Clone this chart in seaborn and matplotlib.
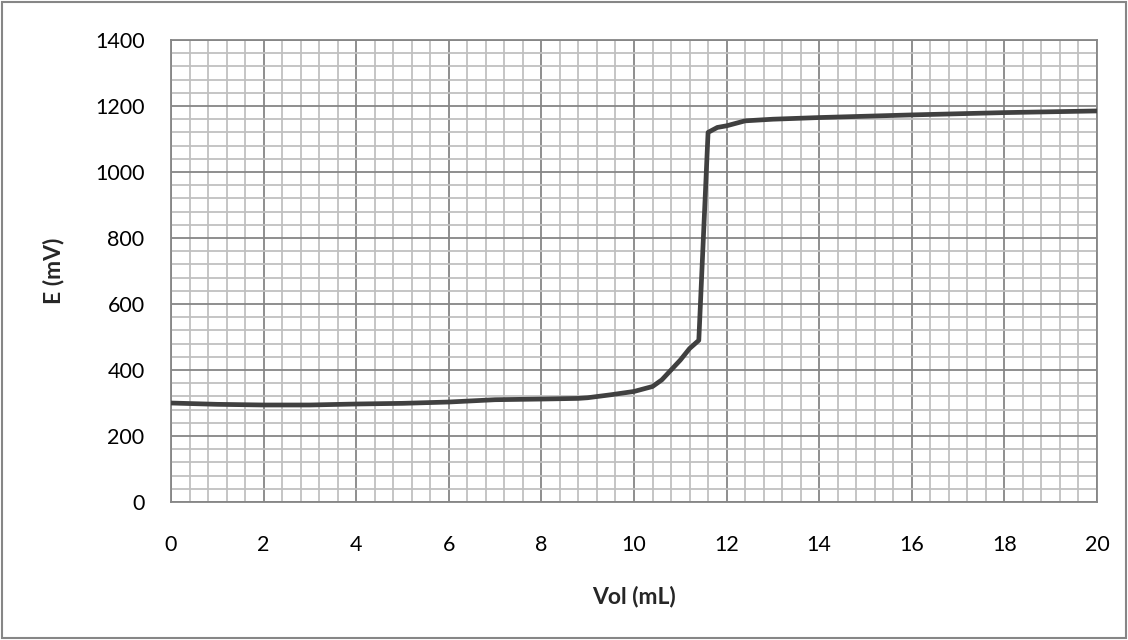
import matplotlib
matplotlib.use("Agg")
import matplotlib.pyplot as plt
from matplotlib.ticker import MultipleLocator
from matplotlib.patches import Rectangle
import seaborn as sns
import pandas as pd

vol = [0, 1, 2, 3, 4, 5, 6, 7, 8, 8.8, 9, 9.5, 10, 10.4, 10.6, 10.8, 11.0, 11.2, 11.4,
       11.6, 11.8, 12.0, 12.4, 13, 14, 16, 18, 20]
emf = [300, 296, 294, 294, 297, 299, 303, 310, 312, 314, 316, 325, 335, 350, 370, 400, 430, 465, 490,
       1120, 1135, 1140, 1155, 1160, 1165, 1173, 1180, 1185]

df = pd.DataFrame({"Vol (mL)": vol, "E (mV)": emf})

sns.set_style("white")
plt.rcParams['font.family'] = ['Lato', 'DejaVu Sans']

fig = plt.figure(figsize=(11.28, 6.4), dpi=100)
ax = fig.add_axes([0.1516, 0.2156, 0.9725 - 0.1516, 0.9375 - 0.2156])

ax.xaxis.set_major_locator(MultipleLocator(2))
ax.xaxis.set_minor_locator(MultipleLocator(0.4))
ax.yaxis.set_major_locator(MultipleLocator(200))
ax.yaxis.set_minor_locator(MultipleLocator(40))
ax.grid(which='minor', color='#c0c0c0', linewidth=1.3, zorder=0)
ax.grid(which='major', color='#868686', linewidth=1.3, zorder=0)
ax.set_axisbelow(True)

sns.lineplot(data=df, x="Vol (mL)", y="E (mV)", ax=ax, color='#404040', linewidth=3.4,
             solid_joinstyle='round', solid_capstyle='butt', zorder=3)

ax.set_xlim(0, 20)
ax.set_ylim(0, 1400)
for s in ax.spines.values():
    s.set_color('#868686')
    s.set_linewidth(1.3)
ax.tick_params(axis='both', which='both', length=0, labelsize=15.5, colors='black')
ax.tick_params(axis='x', pad=24)
ax.tick_params(axis='y', pad=19)
ax.set_xlabel("Vol (mL)", fontsize=16.5, fontweight='bold', labelpad=22)
ax.set_ylabel("E (mV)", fontsize=16.5, fontweight='bold', labelpad=22)

fig.patches.append(Rectangle((0.002, 0.003), 0.996, 0.994, transform=fig.transFigure,
                             fill=False, edgecolor='#868686', linewidth=1.5))

fig.savefig("out.png", dpi=100)
